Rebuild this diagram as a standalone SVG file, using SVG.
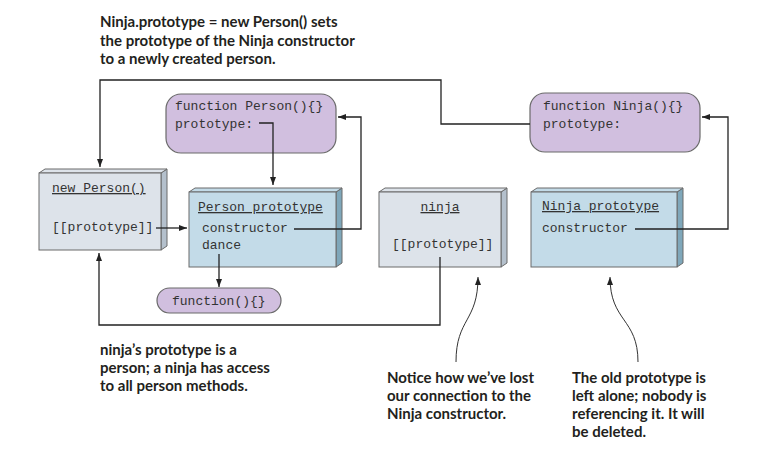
<svg xmlns="http://www.w3.org/2000/svg" width="783" height="453" viewBox="0 0 783 453">
<style>
.cap{font-family:Lato,"Liberation Sans",sans-serif;font-weight:bold;font-size:15px;fill:#231f20}
.mono{font-family:"Liberation Mono","Courier New",monospace;font-size:13px;fill:#333}
.u{text-decoration:underline}
.fn{fill:#d1bfdf;stroke:#6a6a6a;stroke-width:1.2}
.obj{fill:#dde3ea;stroke:#6a6a6a;stroke-width:1}
.objs{fill:#b4c0cc;stroke:#6a6a6a;stroke-width:1}
.pro{fill:#c3dbe8;stroke:#6a6a6a;stroke-width:1}
.pros{fill:#7fa7ba;stroke:#6a6a6a;stroke-width:1}
.ln{fill:none;stroke:#222;stroke-width:1.3}
.cv{fill:none;stroke:#333;stroke-width:1}
</style>
<defs>
<marker id="ah" viewBox="0 0 8 6" refX="8" refY="3" markerWidth="8" markerHeight="6" markerUnits="userSpaceOnUse" orient="auto">
<path d="M0,0 L8,3 L0,6 z" fill="#222"/>
</marker>
</defs>

<g id="title">
<text class="cap" x="100" y="27">Ninja.prototype = new Person() sets</text>
<text class="cap" x="100" y="46">the prototype of the Ninja constructor</text>
<text class="cap" x="100" y="64">to a newly created person.</text>
</g>

<g id="person-fn">
<rect class="fn" x="166" y="94" width="170" height="59" rx="15"/>
<text class="mono" x="175" y="110">function Person(){}</text>
<text class="mono" x="175" y="128">prototype:</text>
</g>

<g id="ninja-fn">
<rect class="fn" x="530" y="93" width="170" height="59" rx="15"/>
<text class="mono" x="543" y="110">function Ninja(){}</text>
<text class="mono" x="543" y="128">prototype:</text>
</g>

<g id="new-person">
<path class="objs" d="M161,173 L167,169 L167,246 L161,250 z"/>
<path class="obj" d="M39,173 L45,169 L167,169 L161,173 z"/>
<rect class="obj" x="39" y="173" width="122" height="77"/>
<text class="mono u" x="52" y="192">new Person()</text>
<text class="mono" x="52" y="231">[[prototype]]</text>
</g>

<g id="person-prototype">
<path class="pros" d="M336,192 L342,188 L342,263 L336,267 z"/>
<path class="pro" d="M189,192 L195,188 L342,188 L336,192 z"/>
<rect class="pro" x="189" y="192" width="147" height="75"/>
<text class="mono u" x="198" y="211">Person prototype</text>
<text class="mono" x="202" y="232">constructor</text>
<text class="mono" x="202" y="249">dance</text>
</g>

<g id="dance-fn">
<rect class="fn" x="157" y="288" width="124" height="25" rx="12.5"/>
<text class="mono" x="172" y="305">function(){}</text>
</g>

<g id="ninja">
<path class="objs" d="M501,192 L507,188 L507,263 L501,267 z"/>
<path class="obj" d="M379,192 L385,188 L507,188 L501,192 z"/>
<rect class="obj" x="379" y="192" width="122" height="75"/>
<text class="mono u" x="440" y="211" text-anchor="middle">ninja</text>
<text class="mono" x="392" y="248">[[prototype]]</text>
</g>

<g id="ninja-prototype">
<path class="pros" d="M677,192 L683,188 L683,263 L677,267 z"/>
<path class="pro" d="M531,192 L537,188 L683,188 L677,192 z"/>
<rect class="pro" x="531" y="192" width="146" height="75"/>
<text class="mono u" x="542" y="210">Ninja prototype</text>
<text class="mono" x="542" y="232">constructor</text>
</g>

<g id="connectors">
<path class="ln" d="M530,124 H441 V80 H100 V167" marker-end="url(#ah)"/>
<path class="ln" d="M259,123 H273 V185" marker-end="url(#ah)"/>
<path class="ln" d="M294,229 H361 V117 H338" marker-end="url(#ah)"/>
<path class="ln" d="M156,228 H187" marker-end="url(#ah)"/>
<path class="ln" d="M219,254 V287" marker-end="url(#ah)"/>
<path class="ln" d="M440,257 V325 H99 V253" marker-end="url(#ah)"/>
<path class="ln" d="M635,229 H728 V117 H702" marker-end="url(#ah)"/>
<path class="cv" d="M456,362 C456,318 478,322 478,277" marker-end="url(#ah)"/>
<path class="cv" d="M638,362 C638,318 610,322 610,277" marker-end="url(#ah)"/>
</g>

<g id="notes">
<text class="cap" x="100" y="355">ninja’s prototype is a</text>
<text class="cap" x="100" y="373">person; a ninja has access</text>
<text class="cap" x="100" y="391">to all person methods.</text>
<text class="cap" x="387" y="383">Notice how we’ve lost</text>
<text class="cap" x="387" y="401">our connection to the</text>
<text class="cap" x="387" y="419">Ninja constructor.</text>
<text class="cap" x="572" y="383">The old prototype is</text>
<text class="cap" x="572" y="401">left alone; nobody is</text>
<text class="cap" x="572" y="419">referencing it. It will</text>
<text class="cap" x="572" y="437">be deleted.</text>
</g>
</svg>
